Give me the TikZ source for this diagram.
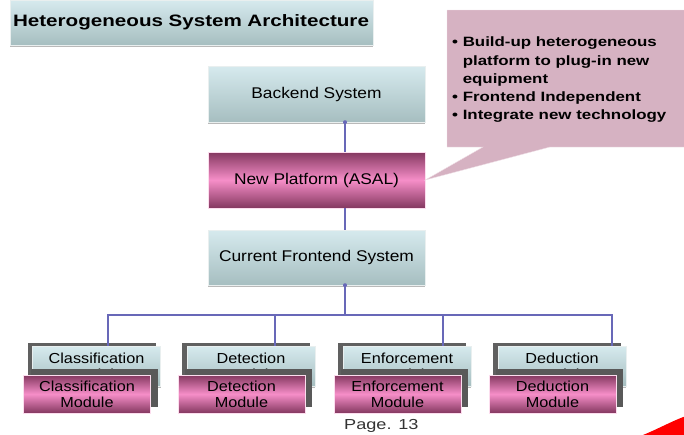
\documentclass[tikz,border=0pt]{standalone}
\usepackage{fontspec}
\setmainfont{Liberation Sans}
\newfontfamily\boxfont{Liberation Sans}[FakeStretch=1.12]
\newfontfamily\widefont{Liberation Sans}[FakeStretch=1.25]
\usetikzlibrary{shadows}
\definecolor{boxtop}{RGB}{214,234,238}
\definecolor{boxbot}{RGB}{166,190,192}
\definecolor{pinkdark}{RGB}{132,56,96}
\definecolor{pinklight}{RGB}{246,142,200}
\definecolor{calloutfill}{RGB}{214,178,194}
\definecolor{linkblue}{RGB}{104,104,184}

\begin{document}
\begin{tikzpicture}[x=1pt,y=-1pt,
  bluebox/.style={rectangle,inner sep=0pt,top color=boxtop,bottom color=boxbot,
    draw=white!75!boxbot,general shadow={fill=gray!55,shadow yshift=-2pt}},
  pinkbox/.style={rectangle,inner sep=0pt,top color=pinkdark,bottom color=pinkdark,
    middle color=pinklight,draw=white!70!pinklight},
  bigbox/.style={minimum width=217pt,minimum height=56pt,
    font=\boxfont\fontsize{15.5}{17}\selectfont},
  modback/.style={bluebox,minimum width=128pt,minimum height=40pt,align=center,
    general shadow={fill=gray!75!black,shadow xshift=-5pt,shadow yshift=3pt},
    font=\boxfont\fontsize{14.5}{16}\selectfont},
  modfront/.style={pinkbox,minimum width=127pt,minimum height=38pt,align=center,
    general shadow={fill=gray!70!black,shadow xshift=7pt,shadow yshift=6pt},
    font=\boxfont\fontsize{14.5}{16}\selectfont},
  link/.style={draw=linkblue,line width=1.1pt}]
\path[use as bounding box,clip] (0,0) rectangle (684,434);

% title bar
\node[bluebox,minimum width=363pt,minimum height=45pt,text width=357pt,
  font=\widefont\bfseries\fontsize{16.5}{18}\selectfont] (title) at (191.5,22.5)
  {Heterogeneous System Architecture};

% main stack
\node[bluebox,bigbox] (back) at (316.5,94) {Backend System};
\node[pinkbox,bigbox] (plat) at (316.5,180) {New Platform (ASAL)};
\node[bluebox,bigbox,minimum height=55pt] (front) at (316.5,257.5) {Current Frontend System};

% callout
\filldraw[fill=calloutfill,draw=white!60!calloutfill] (447,10) -- (690,10) -- (690,147)
  -- (550,147) -- (plat.east) -- (483,147) -- (447,147) -- cycle;
\node[anchor=north west,align=left,inner sep=0pt,
  font=\widefont\bfseries\fontsize{13.5}{18.2}\selectfont] (notes) at (452,37)
  {\textbullet\ Build-up heterogeneous\\
   \phantom{\textbullet\ }platform to plug-in new\\
   \phantom{\textbullet\ }equipment\\
   \textbullet\ Frontend Independent\\
   \textbullet\ Integrate new technology};

% modules
\foreach \n/\x/\t in {cls/96.5/Classification,det/251/Detection,
                      enf/407/Enforcement,ded/562/Deduction}{
  \node[modback] (\n-back) at (\x,366) {\t\\Module};
  \node[modfront] (\n) at (\x-9.5,394) {\t\\Module};
}

% connectors
\coordinate (bus) at (345,315);
\draw[link] (back.south -| bus) -- (plat.north -| bus);
\draw[link] (plat.south -| bus) -- (front.north -| bus);
\draw[link] (front.south -| bus) -- (bus);
\fill[linkblue] (back.south -| bus) circle (2pt);
\fill[linkblue] (front.south -| bus) circle (2pt);
\foreach \n/\dx in {cls/11.5,det/24,enf/36,ded/50}
  \draw[link] (bus) -| ([xshift=\dx pt]\n-back.north);

% footer
\node[anchor=base west,inner sep=0pt,text=black!80,
  font=\widefont\fontsize{14.5}{14.5}\selectfont] (page) at (344,429) {Page. 13};
\fill[red] (643,435) .. controls (660,428) and (672,421) .. (686,416) -- (686,435) -- cycle;
\end{tikzpicture}
\end{document}
